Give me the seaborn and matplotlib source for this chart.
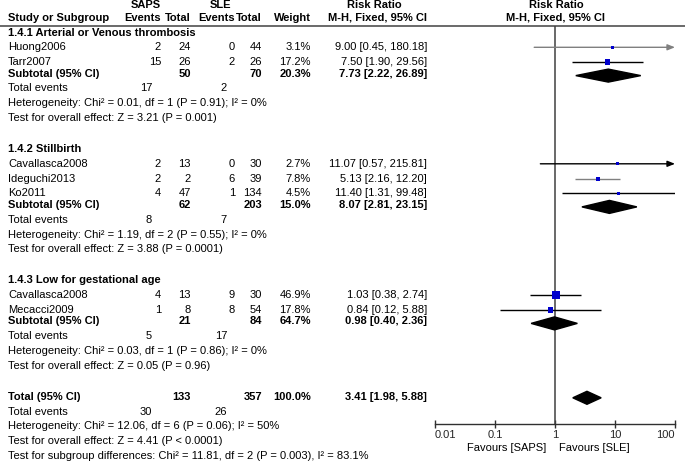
import numpy as np
import pandas as pd
import matplotlib
matplotlib.use('Agg')
import matplotlib.pyplot as plt
from matplotlib.patches import Polygon
import seaborn as sns

# study level data
studies = ['Huong2006', 'Tarr2007', 'Cavallasca2008', 'Ideguchi2013', 'Ko2011',
           'Cavallasca2008', 'Mecacci2009']
group = [0, 0, 1, 1, 1, 2, 2]
saps_events = [2, 15, 2, 2, 4, 4, 1]
saps_total = [24, 26, 13, 2, 47, 13, 8]
sle_events = [0, 2, 0, 6, 1, 9, 8]
sle_total = [44, 26, 30, 39, 134, 30, 54]
weight = [3.1, 17.2, 2.7, 7.8, 4.5, 46.9, 17.8]
rr = [9.00, 7.50, 11.07, 5.13, 11.40, 1.03, 0.84]
rr_lo = [0.45, 1.90, 0.57, 2.16, 1.31, 0.38, 0.12]
rr_hi = [180.18, 29.56, 215.81, 12.20, 99.48, 2.74, 5.88]

# subgroup data
subgroups = ['1.4.1 Arterial or Venous thrombosis', '1.4.2 Stillbirth',
             '1.4.3 Low for gestational age']
sub_saps_total = [50, 62, 21]
sub_sle_total = [70, 203, 84]
sub_weight = [20.3, 15.0, 64.7]
sub_rr = [7.73, 8.07, 0.98]
sub_lo = [2.22, 2.81, 0.40]
sub_hi = [26.89, 23.15, 2.36]
sub_saps_events = [17, 8, 5]
sub_sle_events = [2, 7, 17]
sub_het = ['Heterogeneity: Chi\u00b2 = 0.01, df = 1 (P = 0.91); I\u00b2 = 0%',
           'Heterogeneity: Chi\u00b2 = 1.19, df = 2 (P = 0.55); I\u00b2 = 0%',
           'Heterogeneity: Chi\u00b2 = 0.03, df = 1 (P = 0.86); I\u00b2 = 0%']
sub_z = ['Test for overall effect: Z = 3.21 (P = 0.001)',
         'Test for overall effect: Z = 3.88 (P = 0.0001)',
         'Test for overall effect: Z = 0.05 (P = 0.96)']

# overall
tot_saps_total = 133
tot_sle_total = 357
tot_weight = 100.0
tot_rr, tot_lo, tot_hi = 3.41, 1.98, 5.88
tot_saps_events = 30
tot_sle_events = 26
tot_notes = ['Heterogeneity: Chi\u00b2 = 12.06, df = 6 (P = 0.06); I\u00b2 = 50%',
             'Test for overall effect: Z = 4.41 (P < 0.0001)',
             'Test for subgroup differences: Chi\u00b2 = 11.81, df = 2 (P = 0.003), I\u00b2 = 83.1%']

axis_ticks = [0.01, 0.1, 1, 10, 100]
axis_labels = ['0.01', '0.1', '1', '10', '100']

##########################################################################################################
# layout (pixel rows)
ROW, SUB, GAP = 14.8, 11.5, 31
study_y = []
head_y, subtot_y, te_y, het_y, z_y = [], [], [], [], []
y = 32.5
for g in range(3):
    head_y.append(y)
    for i in range(len(studies)):
        if group[i] == g:
            y += ROW
            study_y.append(y)
    y += SUB
    subtot_y.append(y)
    y += ROW
    te_y.append(y)
    y += ROW
    het_y.append(y)
    y += ROW
    z_y.append(y)
    y += GAP
total_y = y
total_note_y = [total_y + ROW * (k + 1) for k in range(4)]

df = pd.DataFrame({'study': studies, 'rr': rr, 'lo': rr_lo, 'hi': rr_hi,
                   'weight': weight, 'y': study_y})

sns.set_theme(style='white')
plt.rcParams['font.family'] = ['Liberation Sans', 'DejaVu Sans']
plt.rcParams['font.size'] = 8

fig = plt.figure(figsize=(6.85, 4.63), dpi=100)
tax = fig.add_axes([0, 0, 1, 1])
tax.set_xlim(0, 685)
tax.set_ylim(463, 0)
tax.axis('off')

c_se, c_st, c_le, c_lt, c_w, c_rr = 161, 191, 235, 262, 311, 427
fs = 8

def txt(x, y, s, ha='right', bold=False):
    tax.text(x, y, s, ha=ha, va='center', fontsize=fs,
             fontweight='bold' if bold else 'normal', color='black')

# header
txt(146, 5, 'SAPS', ha='center', bold=True)
txt(220, 5, 'SLE', ha='center', bold=True)
txt(374, 5, 'Risk Ratio', ha='center', bold=True)
txt(556, 5, 'Risk Ratio', ha='center', bold=True)
txt(8, 18, 'Study or Subgroup', ha='left', bold=True)
txt(c_se, 18, 'Events', bold=True)
txt(c_st, 18, 'Total', bold=True)
txt(c_le, 18, 'Events', bold=True)
txt(c_lt, 18, 'Total', bold=True)
txt(c_w, 18, 'Weight', bold=True)
txt(c_rr, 18, 'M-H, Fixed, 95% CI', bold=True)
txt(556, 18, 'M-H, Fixed, 95% CI', ha='center', bold=True)
tax.hlines(25.5, 0, 685, color='#505050', lw=1.2)

# study rows
for i, r in df.iterrows():
    txt(8, r.y, r.study, ha='left')
    txt(c_se, r.y, str(saps_events[i]))
    txt(c_st, r.y, str(saps_total[i]))
    txt(c_le, r.y, str(sle_events[i]))
    txt(c_lt, r.y, str(sle_total[i]))
    txt(c_w, r.y, f'{r.weight:.1f}%')
    txt(c_rr, r.y, f'{r.rr:.2f} [{r.lo:.2f}, {r.hi:.2f}]')

for g in range(3):
    txt(8, head_y[g], subgroups[g], ha='left', bold=True)
    txt(8, subtot_y[g], 'Subtotal (95% CI)', ha='left', bold=True)
    txt(c_st, subtot_y[g], str(sub_saps_total[g]), bold=True)
    txt(c_lt, subtot_y[g], str(sub_sle_total[g]), bold=True)
    txt(c_w, subtot_y[g], f'{sub_weight[g]:.1f}%', bold=True)
    txt(c_rr, subtot_y[g], f'{sub_rr[g]:.2f} [{sub_lo[g]:.2f}, {sub_hi[g]:.2f}]', bold=True)
    txt(8, te_y[g], 'Total events', ha='left')
    txt(152, te_y[g], str(sub_saps_events[g]))
    txt(227, te_y[g], str(sub_sle_events[g]))
    txt(8, het_y[g], sub_het[g], ha='left')
    txt(8, z_y[g], sub_z[g], ha='left')

txt(8, total_y, 'Total (95% CI)', ha='left', bold=True)
txt(c_st, total_y, str(tot_saps_total), bold=True)
txt(c_lt, total_y, str(tot_sle_total), bold=True)
txt(c_w, total_y, f'{tot_weight:.1f}%', bold=True)
txt(c_rr, total_y, f'{tot_rr:.2f} [{tot_lo:.2f}, {tot_hi:.2f}]', bold=True)
txt(8, total_note_y[0], 'Total events', ha='left')
txt(152, total_note_y[0], str(tot_saps_events))
txt(227, total_note_y[0], str(tot_sle_events))
for k, s in enumerate(tot_notes):
    txt(8, total_note_y[k + 1], s, ha='left')

##########################################################################################################
# forest panel
fax = fig.add_axes([435 / 685, 0, 240 / 685, 1])
fax.patch.set_alpha(0)
fax.set_xscale('log')
fax.set_xlim(0.01, 100)
fax.set_ylim(463, 0)
axis_y = 424

ci_colors = ['#808080', 'black', 'black', '#808080', 'black', 'black', 'black']
for i, r in df.iterrows():
    if r.hi > 100:
        fax.annotate('', xy=(100, r.y), xytext=(r.lo, r.y),
                     arrowprops=dict(arrowstyle='-|>,head_length=0.55,head_width=0.22',
                                     color=ci_colors[i], lw=1, shrinkA=0, shrinkB=0))
    else:
        fax.hlines(r.y, r.lo, min(r.hi, 100), color=ci_colors[i], lw=1)

sizes = {w: 0.75 * w + 2 for w in weight}
sns.scatterplot(data=df, x='rr', y='y', size='weight', sizes=sizes, marker='s',
                color='#0000cc', edgecolor='none', legend=False, ax=fax, zorder=3)

def diamond(c, lo, hi, yc, h=6.5):
    fax.add_patch(Polygon([(lo, yc), (c, yc - h), (hi, yc), (c, yc + h)],
                          closed=True, color='black', zorder=3))

for g in range(3):
    diamond(sub_rr[g], sub_lo[g], sub_hi[g], subtot_y[g] + 2)
diamond(tot_rr, tot_lo, tot_hi, total_y + 1)

fax.vlines(1, 25.5, axis_y, color='#404040', lw=1.1, zorder=1)

for s in ['top', 'left', 'right']:
    fax.spines[s].set_visible(False)
fax.spines['bottom'].set_position(('data', axis_y))
fax.spines['bottom'].set_color('#303030')
fax.spines['bottom'].set_linewidth(1)
fax.set_yticks([])
fax.set_xticks(axis_ticks)
fax.set_xticklabels(axis_labels)
fax.minorticks_off()
fax.tick_params(axis='x', direction='inout', length=6, width=1, color='#303030',
                labelsize=fs, pad=1, bottom=True)
lbls = fax.get_xticklabels()
lbls[0].set_ha('left')
lbls[-1].set_ha('right')
fax.set_xlabel('')
fax.set_ylabel('')

txt(546, 448, 'Favours [SAPS]', ha='right')
txt(559, 448, 'Favours [SLE]', ha='left')

plt.savefig('out.png', dpi=100)
